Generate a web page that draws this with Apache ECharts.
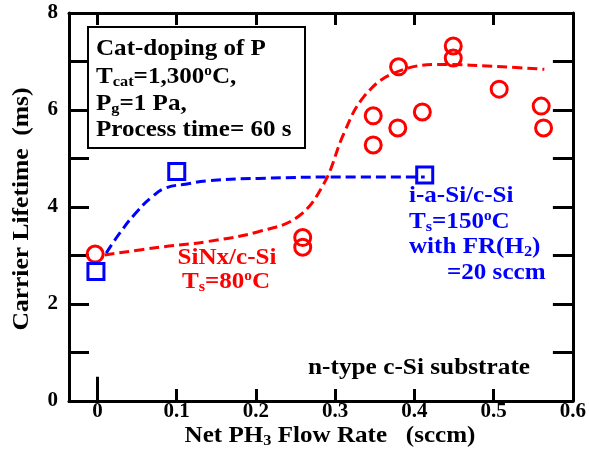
<!DOCTYPE html>
<html>
<head>
<meta charset="utf-8">
<script src="https://cdn.jsdelivr.net/npm/echarts@6/dist/echarts.min.js"></script>
<style>html,body{margin:0;padding:0;background:#fff}#c{width:589px;height:457px}</style>
</head>
<body>
<div id="c"></div>
<script>
// ---- data ----
const xTicks = [0, 0.1, 0.2, 0.3, 0.4, 0.5, 0.6];
const yTicks = [0, 1, 2, 3, 4, 5, 6, 7, 8];
const yLabels = [0, 2, 4, 6, 8];

// SiNx/c-Si (red circles)
const sinX = [-0.003, 0.259, 0.259, 0.348, 0.348, 0.379, 0.380, 0.410, 0.449, 0.449, 0.507, 0.560, 0.563];
const sinY = [3.03, 3.37, 3.17, 5.88, 5.28, 5.63, 6.89, 5.96, 7.32, 7.07, 6.43, 6.08, 5.63];

// i-a-Si/c-Si (blue squares)
const asiX = [-0.002, 0.100, 0.413];
const asiY = [2.67, 4.73, 4.66];

// dashed guide curves
const sinFitX = [0.009, 0.078, 0.140, 0.203, 0.253, 0.286, 0.311, 0.336, 0.374, 0.432, 0.511, 0.564];
const sinFitY = [3.01, 3.17, 3.29, 3.49, 3.80, 4.49, 5.52, 6.27, 6.76, 6.94, 6.89, 6.84];
const asiFitX = [0.011, 0.028, 0.048, 0.069, 0.086, 0.111, 0.140, 0.203, 0.328, 0.413];
const asiFitY = [3.05, 3.46, 3.87, 4.21, 4.39, 4.47, 4.54, 4.59, 4.62, 4.62];

const zip = (a, b) => a.map((v, i) => [v, b[i]]);

const FF = 'Liberation Serif, Times New Roman, DejaVu Serif, serif';
const RED = '#ff0000', BLUE = '#0000ff';

function rich(color, size) {
  return {
    b: {fontFamily: FF, fontWeight: 'bold', fontSize: size, fill: color, lineHeight: size + 2, verticalAlign: 'middle'},
    s: {fontFamily: FF, fontWeight: 'bold', fontSize: Math.round(size * 0.65), fill: color, verticalAlign: 'bottom'},
    p: {fontFamily: FF, fontWeight: 'bold', fontSize: Math.round(size * 0.6), fill: color, verticalAlign: 'top'}
  };
}
function txt(x, y, text, color, size, align, rot, sx) {
  return {
    type: 'text', x: x, y: y, rotation: rot || 0, scaleX: sx || 1.09, z: 100,
    style: {text: text, rich: rich(color, size), align: align || 'left', verticalAlign: 'middle', fill: color,
            fontFamily: FF, fontWeight: 'bold', fontSize: size}
  };
}
function line() { return {show: true, onZero: false, lineStyle: {color: '#000', width: 3}}; }
function tick(len, vals) { return {show: true, inside: true, length: len, lineStyle: {color: '#000', width: 3}, customValues: vals}; }
function lab(margin, vals) {
  return {show: true, margin: margin, customValues: vals, color: '#000', fontFamily: FF, fontWeight: 'bold', fontSize: 21};
}

const chart = echarts.init(document.getElementById('c'), null, {renderer: 'canvas'});
chart.setOption({
  animation: false,
  backgroundColor: '#fff',
  textStyle: {fontFamily: FF},
  grid: {left: 69, right: 11, top: 13, bottom: 56, containLabel: false},
  xAxis: [
    {type: 'value', show: true, position: 'bottom', min: -0.036, max: 0.6, axisLine: line(),
     axisTick: tick(12, xTicks), axisLabel: lab(0, xTicks), splitLine: {show: false}},
    {type: 'value', show: true, position: 'top', min: -0.036, max: 0.6, axisLine: line(),
     axisTick: tick(12, xTicks), axisLabel: {show: false}, splitLine: {show: false}}
  ],
  yAxis: [
    {type: 'value', show: true, position: 'left', min: 0, max: 8, interval: 1, axisLine: line(),
     axisTick: tick(20, yTicks), axisLabel: lab(11, yLabels), splitLine: {show: false}},
    {type: 'value', show: true, position: 'right', min: 0, max: 8, interval: 1, axisLine: line(),
     axisTick: tick(20, yTicks), axisLabel: {show: false}, splitLine: {show: false}}
  ],
  series: [
    {type: 'line', data: zip(sinFitX, sinFitY), smooth: 0.4, showSymbol: false, z: 2,
     lineStyle: {color: RED, width: 3, type: [10, 5]},
     markLine: {silent: true, symbol: 'none', label: {show: false},
                lineStyle: {color: '#000', width: 3, type: 'solid'},
                data: [[{coord: [0, 0]}, {coord: [0, 0.5]}]]}},
    {type: 'line', data: zip(asiFitX, asiFitY), smooth: 0.5, showSymbol: false, z: 2,
     lineStyle: {color: BLUE, width: 3, type: [10, 5]}},
    {type: 'scatter', data: zip(sinX, sinY), symbol: 'circle', symbolSize: 16, z: 3,
     itemStyle: {color: 'rgba(0,0,0,0)', borderColor: RED, borderWidth: 3, opacity: 1}},
    {type: 'scatter', data: zip(asiX, asiY), symbol: 'rect', symbolSize: 16, z: 3,
     itemStyle: {color: 'rgba(0,0,0,0)', borderColor: BLUE, borderWidth: 3, opacity: 1}}
  ],
  graphic: [
    {type: 'rect', shape: {x: 88, y: 27, width: 217, height: 121}, z: 90,
     style: {fill: '#fff', stroke: '#000', lineWidth: 2}},
    txt(96, 49, '{b|Cat-doping of P}', '#000', 23),
    txt(96, 77, '{b|T}{s|cat}{b|=1,300}{p|o}{b|C,}', '#000', 23),
    txt(96, 104, '{b|P}{s|g}{b|=1 Pa,}', '#000', 23),
    txt(96, 130, '{b|Process time= 60 s}', '#000', 23),
    txt(227, 258, '{b|SiNx/c-Si}', RED, 23, 'center'),
    txt(226, 282, '{b|T}{s|s}{b|=80}{p|o}{b|C}', RED, 23, 'center'),
    txt(409, 196, '{b|i-a-Si/c-Si}', BLUE, 23),
    txt(409, 222, '{b|T}{s|s}{b|=150}{p|o}{b|C}', BLUE, 23),
    txt(409, 247, '{b|with FR(H}{s|2}{b|)}', BLUE, 23),
    txt(447, 273, '{b|=20 sccm}', BLUE, 23),
    txt(419, 368, '{b|n-type c-Si substrate}', '#000', 23, 'center', 0, 1.1),
    txt(330, 436, '{b|Net PH}{s|3}{b| Flow Rate   (sccm)}', '#000', 23, 'center'),
    txt(22, 209, '{b|Carrier Lifetime  (ms)}', '#000', 23, 'center', Math.PI / 2, 1.11)
  ]
});
</script>
</body>
</html>
